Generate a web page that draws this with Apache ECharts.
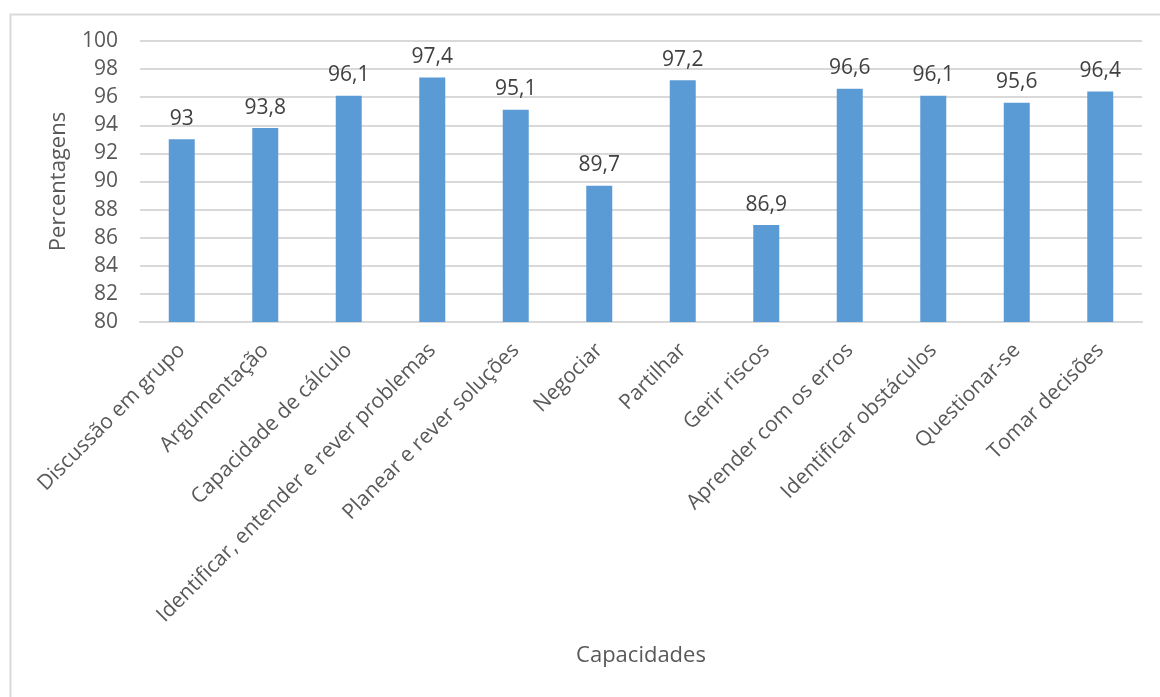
<!DOCTYPE html>
<html>
<head>
<meta charset="utf-8">
<script src="https://cdn.jsdelivr.net/npm/echarts@6/dist/echarts.min.js"></script>
<style>
  html, body { margin: 0; padding: 0; background: #ffffff; }
  #chart { width: 1160px; height: 697px; }
</style>
</head>
<body>
<div id="chart"></div>
<script>
// Capacidades avaliadas e respetivas percentagens
const categories = [
  'Discussão em grupo',
  'Argumentação',
  'Capacidade de cálculo',
  'Identificar, entender e rever problemas',
  'Planear e rever soluções',
  'Negociar',
  'Partilhar',
  'Gerir riscos',
  'Aprender com os erros',
  'Identificar obstáculos',
  'Questionar-se',
  'Tomar decisões'
];
const percentages = [93, 93.8, 96.1, 97.4, 95.1, 89.7, 97.2, 86.9, 96.6, 96.1, 95.6, 96.4];
const yTicks = [80, 82, 84, 86, 88, 90, 92, 94, 96, 98, 100];

const FONT = '"Open Sans", "DejaVu Sans", sans-serif';
const TEXT = '#595959';
const GRID = '#d9d9d9';

const chart = echarts.init(document.getElementById('chart'), null, { renderer: 'canvas' });

chart.setOption({
  backgroundColor: '#ffffff',
  animation: false,
  textStyle: { fontFamily: FONT, color: TEXT },
  graphic: [{
    type: 'rect',
    left: 8, top: 12,
    shape: { width: 1170, height: 700 },
    style: { fill: 'none', stroke: GRID, lineWidth: 2 },
    silent: true,
    z: -1
  }],
  grid: { left: 140, right: 18, top: 41, bottom: 375 },
  xAxis: {
    type: 'category',
    data: categories,
    name: 'Capacidades',
    nameLocation: 'middle',
    nameGap: 323,
    nameTextStyle: { fontFamily: FONT, fontSize: 22, color: TEXT },
    axisLine: { show: true, lineStyle: { color: GRID, width: 2 } },
    axisTick: { show: false },
    axisLabel: {
      interval: 0,
      rotate: 45,
      margin: 25,
      fontFamily: FONT,
      fontSize: 21,
      color: TEXT
    }
  },
  yAxis: {
    type: 'value',
    min: yTicks[0],
    max: yTicks[yTicks.length - 1],
    interval: 2,
    name: 'Percentagens',
    nameLocation: 'middle',
    nameGap: 70,
    nameTextStyle: { fontFamily: FONT, fontSize: 22, color: TEXT },
    axisLine: { show: false },
    axisTick: { show: false },
    axisLabel: {
      margin: 22,
      fontFamily: FONT,
      fontSize: 21,
      color: TEXT
    },
    splitLine: { show: true, lineStyle: { color: GRID, width: 2 } }
  },
  series: [{
    type: 'bar',
    data: percentages,
    barWidth: 26,
    itemStyle: { color: '#5b9bd5' },
    label: {
      show: true,
      position: 'top',
      distance: 10,
      fontFamily: FONT,
      fontSize: 21,
      color: '#404040',
      formatter: p => String(p.value).replace('.', ',')
    }
  }]
});
</script>
</body>
</html>
